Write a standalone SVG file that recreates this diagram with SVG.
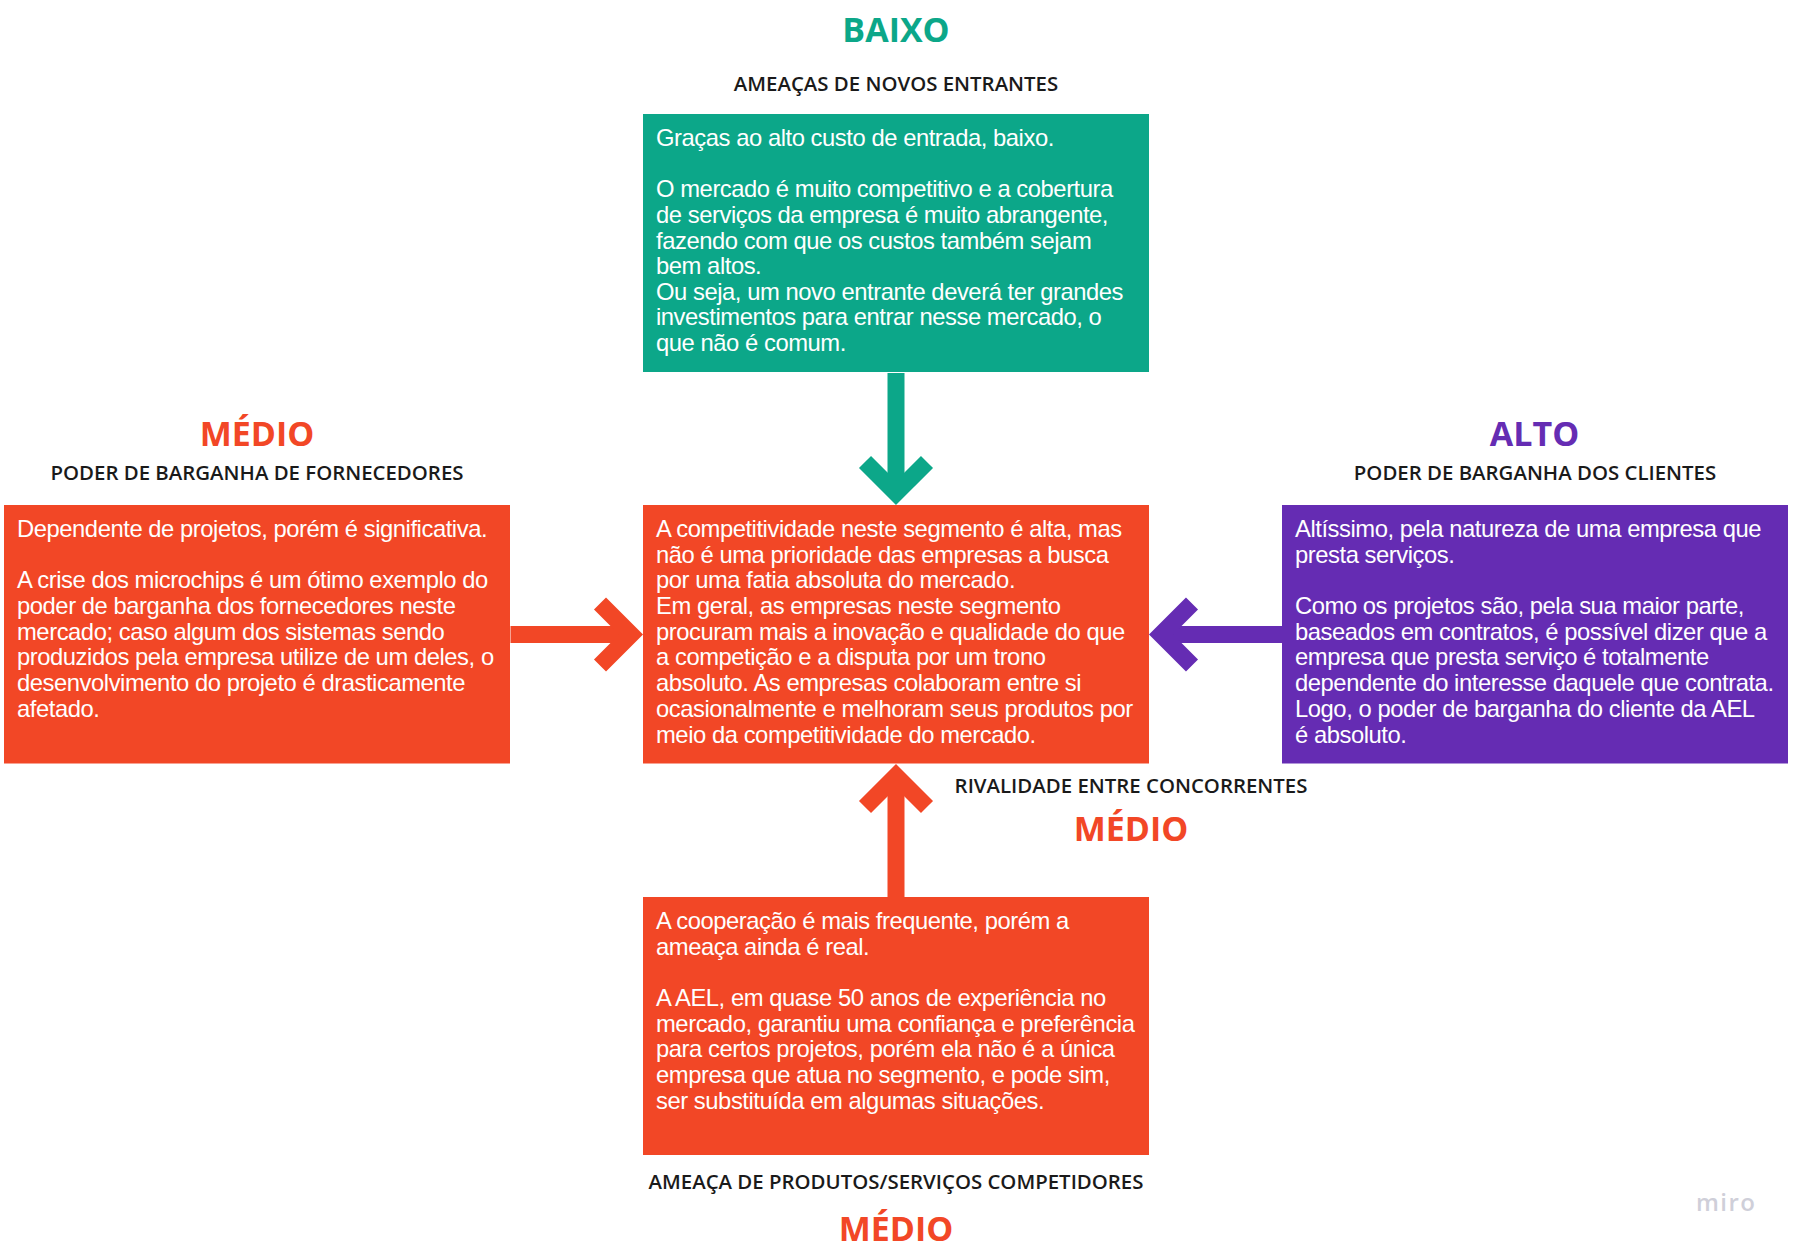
<svg xmlns="http://www.w3.org/2000/svg" width="1795" height="1253" viewBox="0 0 1795 1253">
<style>
.body{font-family:"Liberation Sans",Arial,sans-serif;font-size:23.8px;letter-spacing:-.45px;fill:#fff}
.lvl{font-family:"Open Sans",sans-serif;font-size:34px;font-weight:700;text-anchor:middle}
.sub{font-family:"Open Sans",sans-serif;font-size:20.4px;font-weight:600;fill:#1a1a1a;text-anchor:middle}
.g{fill:#0ca789}.r{fill:#f24726}.p{fill:#652cb3}
.shaft{stroke-width:17;fill:none}
.miro{font-family:"Open Sans",sans-serif;font-size:24px;font-weight:600;fill:#cfcfd9;letter-spacing:1.4px}
</style>
<defs>
<marker id="hg" viewBox="-45 -45 60 90" markerUnits="userSpaceOnUse" markerWidth="60" markerHeight="90" refX="0" refY="0" orient="auto"><path d="M-31-31L0 0L-31 31" fill="none" stroke="#0ca789" stroke-width="17"/></marker>
<marker id="hr" viewBox="-45 -45 60 90" markerUnits="userSpaceOnUse" markerWidth="60" markerHeight="90" refX="0" refY="0" orient="auto"><path d="M-31-31L0 0L-31 31" fill="none" stroke="#f24726" stroke-width="17"/></marker>
<marker id="hp" viewBox="-45 -45 60 90" markerUnits="userSpaceOnUse" markerWidth="60" markerHeight="90" refX="0" refY="0" orient="auto"><path d="M-31-31L0 0L-31 31" fill="none" stroke="#652cb3" stroke-width="17"/></marker>
</defs>
<rect width="1795" height="1253" fill="#fff"/>
<g id="connectors">
<line class="shaft" x1="896" y1="373" x2="896" y2="493" stroke="#0ca789" marker-end="url(#hg)"/>
<line class="shaft" x1="510.500" y1="634.500" x2="631" y2="634.500" stroke="#f24726" marker-end="url(#hr)"/>
<line class="shaft" x1="1282" y1="634.500" x2="1161" y2="634.500" stroke="#652cb3" marker-end="url(#hp)"/>
<line class="shaft" x1="896" y1="897" x2="896" y2="776" stroke="#f24726" marker-end="url(#hr)"/>
</g>
<g id="node-top">
<text class="lvl g" x="896" y="41.500">BAIXO</text>
<text class="sub" x="896" y="91">AMEAÇAS DE NOVOS ENTRANTES</text>
<rect class="g" x="643" y="114" width="506" height="258"/>
<text class="body" x="656" y="145.500">Graças ao alto custo de entrada, baixo.</text>
<text class="body" x="656" y="196.500">O mercado é muito competitivo e a cobertura</text>
<text class="body" x="656" y="222.500">de serviços da empresa é muito abrangente,</text>
<text class="body" x="656" y="248.500">fazendo com que os custos também sejam</text>
<text class="body" x="656" y="273.500">bem altos.</text>
<text class="body" x="656" y="299.500">Ou seja, um novo entrante deverá ter grandes</text>
<text class="body" x="656" y="325">investimentos para entrar nesse mercado, o</text>
<text class="body" x="656" y="350.500">que não é comum.</text>
</g>
<g id="node-left">
<text class="lvl r" x="257" y="446">MÉDIO</text>
<text class="sub" x="257" y="480">PODER DE BARGANHA DE FORNECEDORES</text>
<rect class="r" x="4" y="505" width="506" height="258.500"/>
<text class="body" x="17" y="536.500">Dependente de projetos, porém é significativa.</text>
<text class="body" x="17" y="588">A crise dos microchips é um ótimo exemplo do</text>
<text class="body" x="17" y="613.500">poder de barganha dos fornecedores neste</text>
<text class="body" x="17" y="639.500">mercado; caso algum dos sistemas sendo</text>
<text class="body" x="17" y="665">produzidos pela empresa utilize de um deles, o</text>
<text class="body" x="17" y="690.500">desenvolvimento do projeto é drasticamente</text>
<text class="body" x="17" y="716.500">afetado.</text>
</g>
<g id="node-center">
<rect class="r" x="643" y="505" width="506" height="258.500"/>
<text class="body" x="656" y="536.500">A competitividade neste segmento é alta, mas</text>
<text class="body" x="656" y="562.500">não é uma prioridade das empresas a busca</text>
<text class="body" x="656" y="588">por uma fatia absoluta do mercado.</text>
<text class="body" x="656" y="613.500">Em geral, as empresas neste segmento</text>
<text class="body" x="656" y="639.500">procuram mais a inovação e qualidade do que</text>
<text class="body" x="656" y="665">a competição e a disputa por um trono</text>
<text class="body" x="656" y="690.500">absoluto. As empresas colaboram entre si</text>
<text class="body" x="656" y="716.500">ocasionalmente e melhoram seus produtos por</text>
<text class="body" x="656" y="742.500">meio da competitividade do mercado.</text>
<text class="sub" x="1131" y="793">RIVALIDADE ENTRE CONCORRENTES</text>
<text class="lvl r" x="1131" y="841">MÉDIO</text>
</g>
<g id="node-right">
<text class="lvl p" x="1534.500" y="446">ALTO</text>
<text class="sub" x="1535" y="480">PODER DE BARGANHA DOS CLIENTES</text>
<rect class="p" x="1282" y="505" width="506" height="258.500"/>
<text class="body" x="1295" y="536.500">Altíssimo, pela natureza de uma empresa que</text>
<text class="body" x="1295" y="562.500">presta serviços.</text>
<text class="body" x="1295" y="613.500">Como os projetos são, pela sua maior parte,</text>
<text class="body" x="1295" y="639.500">baseados em contratos, é possível dizer que a</text>
<text class="body" x="1295" y="665">empresa que presta serviço é totalmente</text>
<text class="body" x="1295" y="690.500">dependente do interesse daquele que contrata.</text>
<text class="body" x="1295" y="716.500">Logo, o poder de barganha do cliente da AEL</text>
<text class="body" x="1295" y="742.500">é absoluto.</text>
</g>
<g id="node-bottom">
<rect class="r" x="643" y="897" width="506" height="258"/>
<text class="body" x="656" y="928.500">A cooperação é mais frequente, porém a</text>
<text class="body" x="656" y="954.500">ameaça ainda é real.</text>
<text class="body" x="656" y="1005.500">A AEL, em quase 50 anos de experiência no</text>
<text class="body" x="656" y="1031.500">mercado, garantiu uma confiança e preferência</text>
<text class="body" x="656" y="1057">para certos projetos, porém ela não é a única</text>
<text class="body" x="656" y="1082.500">empresa que atua no segmento, e pode sim,</text>
<text class="body" x="656" y="1108.500">ser substituída em algumas situações.</text>
<text class="sub" x="896" y="1188.500">AMEAÇA DE PRODUTOS/SERVIÇOS COMPETIDORES</text>
<text class="lvl r" x="896" y="1240.500">MÉDIO</text>
</g>
<text class="miro" x="1696" y="1211">miro</text>
</svg>
